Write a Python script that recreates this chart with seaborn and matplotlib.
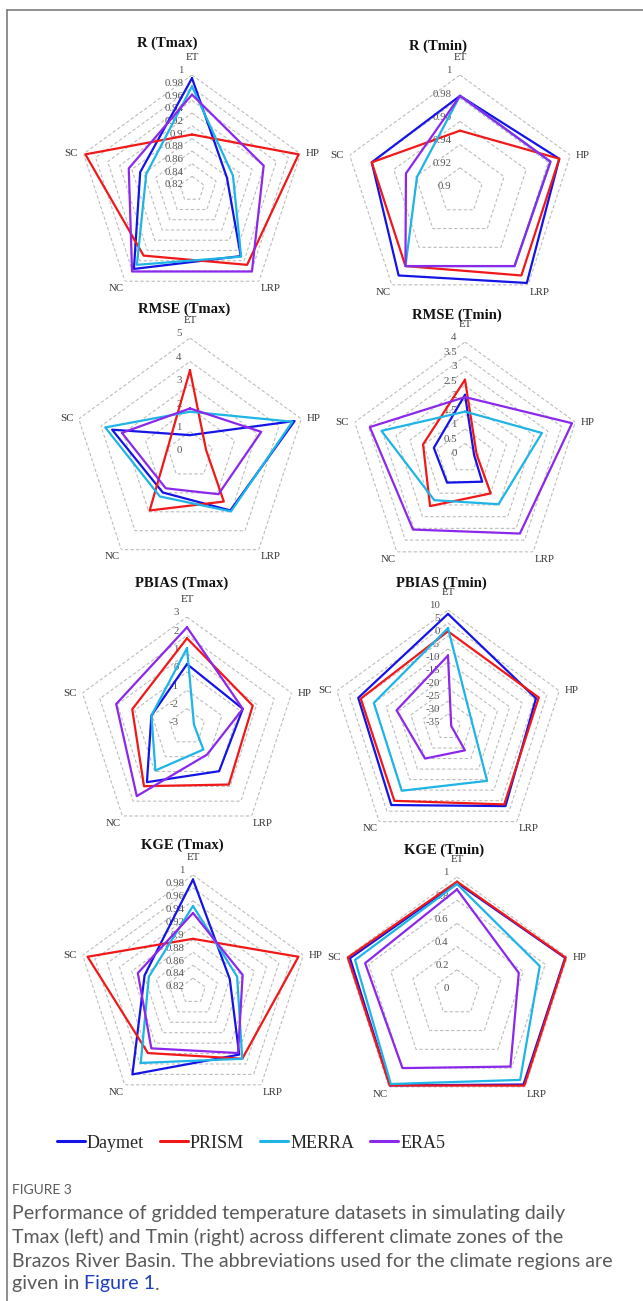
import numpy as np
import pandas as pd
import seaborn as sns
import matplotlib.pyplot as plt
from matplotlib.lines import Line2D

# === 1. Data (regions clockwise from the top; one list per dataset) ===
regions = ["ET", "HP", "LRP", "NC", "SC"]
datasets = ["Daymet", "PRISM", "MERRA", "ERA5"]
colors = ["#1414e6", "#f01818", "#1eb4e6", "#8c28eb"]

#            ET     HP     LRP    NC     SC
r_tmax = [[0.995, 0.878, 0.951, 0.976, 0.906],
          [0.906, 0.997, 0.968, 0.950, 0.997],
          [0.982, 0.888, 0.952, 0.968, 0.896],
          [0.969, 0.939, 0.981, 0.981, 0.925]]
r_tmin = [[0.982, 0.990, 0.998, 0.990, 0.980],
          [0.952, 0.990, 0.990, 0.980, 0.980],
          [0.982, 0.982, 0.980, 0.980, 0.939],
          [0.982, 0.982, 0.980, 0.980, 0.949]]
rmse_tmax = [[0.85, 4.70, 2.93, 1.98, 3.50],
             [3.62, 0.72, 2.46, 2.93, 1.00],
             [1.85, 4.60, 2.98, 2.19, 3.81],
             [1.99, 3.20, 2.07, 1.76, 3.06]]
rmse_tmin = [[2.18, 0.33, 1.01, 1.05, 1.13],
             [2.70, 0.42, 1.51, 2.05, 1.52],
             [1.60, 2.79, 1.97, 1.80, 3.03],
             [2.10, 3.88, 3.22, 3.05, 3.45]]
pbias_tmax = [[0.43, 0.20, -0.02, 0.72, -0.96],
              [1.84, 0.77, 0.88, 0.99, 0.14],
              [1.30, -2.60, -1.48, -0.07, -0.96],
              [2.44, 0.20, -1.14, 1.66, 1.06]]
pbias_tmin = [[8.5, 0.6, 2.6, 2.1, 1.3],
              [1.8, 1.7, 1.8, 0.1, 0.3],
              [3.0, -25.6, -9.4, -4.7, -5.0],
              [-7.5, -33.7, -23.9, -20.0, -14.2]]
kge_tmax = [[0.993, 0.880, 0.942, 0.980, 0.899],
            [0.901, 0.992, 0.950, 0.939, 0.992],
            [0.952, 0.892, 0.950, 0.958, 0.892],
            [0.941, 0.901, 0.939, 0.930, 0.910]]
kge_tmin = [[0.950, 0.980, 0.975, 0.985, 0.970],
            [0.960, 0.985, 0.987, 0.985, 0.990],
            [0.940, 0.750, 0.926, 0.970, 0.924],
            [0.893, 0.560, 0.784, 0.800, 0.833]]

# radial ticks (first = centre of the chart)
ticks_r_tmax = [0.82, 0.84, 0.86, 0.88, 0.90, 0.92, 0.94, 0.96, 0.98, 1.0]
ticks_r_tmin = [0.90, 0.92, 0.94, 0.96, 0.98, 1.0]
ticks_rmse_tmax = [0, 1, 2, 3, 4, 5]
ticks_rmse_tmin = [0, 0.5, 1, 1.5, 2, 2.5, 3, 3.5, 4]
ticks_pbias_tmax = [-3, -2, -1, 0, 1, 2, 3]
ticks_pbias_tmin = [-35, -30, -25, -20, -15, -10, -5, 0, 5, 10]
ticks_kge_tmax = ticks_r_tmax
ticks_kge_tmin = [0, 0.2, 0.4, 0.6, 0.8, 1.0]

# === 2. Panel layout (pixels: chart centre, radius, title centre) ===
W, H = 643, 1301
panels = [
    ("R (Tmax)", r_tmax, ticks_r_tmax, (192, 189), 114, (167, 43)),
    ("R (Tmin)", r_tmin, ticks_r_tmin, (460, 191), 116, (438, 46)),
    ("RMSE (Tmax)", rmse_tmax, ticks_rmse_tmax, (190, 455), 117, (184, 309)),
    ("RMSE (Tmin)", rmse_tmin, ticks_rmse_tmin, (465, 458), 116, (457, 315)),
    ("PBIAS (Tmax)", pbias_tmax, ticks_pbias_tmax, (187, 727), 110, (182, 583)),
    ("PBIAS (Tmin)", pbias_tmin, ticks_pbias_tmin, (448, 727), 117, (441, 583)),
    ("KGE (Tmax)", kge_tmax, ticks_kge_tmax, (193, 991), 116, (182, 845)),
    ("KGE (Tmin)", kge_tmin, ticks_kge_tmin, (457, 993), 116, (444, 850)),
]

# === 3. Style ===
sns.set_style("white")
plt.rcParams["font.family"] = ["Liberation Serif", "DejaVu Serif"]
serif = ["Liberation Serif", "DejaVu Serif"]

angles = np.linspace(0, 2 * np.pi, len(regions), endpoint=False)
closed = np.append(angles, 2 * np.pi)

label_pos = {  # offset (points), ha, va
    "ET": ((0, 9), "center", "bottom"),
    "HP": ((4, 0), "left", "center"),
    "LRP": ((1, -2), "left", "top"),
    "NC": ((-1, -2), "right", "top"),
    "SC": ((-4, 0), "right", "center"),
}

fig = plt.figure(figsize=(W / 100, H / 100), dpi=100)

for title, values, ticks, (cx, cy), R, (tx, ty) in panels:
    ax = fig.add_axes([(cx - R) / W, 1 - (cy + R) / H, 2 * R / W, 2 * R / H],
                      projection="polar")
    ax.set_theta_zero_location("N")
    ax.set_theta_direction(-1)

    # dashed pentagon grid
    for t in ticks[1:]:
        ax.plot(closed, [t] * len(closed), ls=(0, (3, 2)), color="#bdbdbd",
                lw=0.8, zorder=1)

    rows = []
    for name, vals in zip(datasets, values):
        for k in range(len(regions) + 1):
            rows.append({"theta": closed[k], "value": vals[k % len(regions)],
                         "dataset": name})
    df = pd.DataFrame(rows)
    sns.lineplot(data=df, x="theta", y="value", hue="dataset",
                 hue_order=datasets, palette=colors, sort=False,
                 estimator=None, lw=1.6, legend=False, ax=ax, zorder=3)

    ax.set_ylim(ticks[0], ticks[-1])
    ax.set_xticks([])
    ax.set_yticks([])
    ax.grid(False)
    ax.spines["polar"].set_visible(False)
    ax.set_xlabel("")
    ax.set_ylabel("")
    ax.set_facecolor("none")

    for t in ticks:
        ax.annotate(f"{t:g}", xy=(0, t), xytext=(-6, 3), textcoords="offset points",
                    ha="right", va="center", fontsize=7.8, color="#555555",
                    family=serif, annotation_clip=False, zorder=2)
    for ang, reg in zip(angles, regions):
        off, ha, va = label_pos[reg]
        ax.annotate(reg, xy=(ang, ticks[-1]), xytext=off, textcoords="offset points",
                    ha=ha, va=va, fontsize=7.8, color="#333333", family=serif,
                    annotation_clip=False)

    fig.text(tx / W, 1 - ty / H, title, ha="center", va="center",
             fontsize=10.5, fontweight="bold", family=serif, color="#111111")

# === 4. Legend ===
handles = [Line2D([], [], color=c, lw=2.2) for c in colors]
fig.legend(handles, datasets, loc="center", bbox_to_anchor=(251 / W, 1 - 1143 / H),
           ncol=4, frameon=False, handlelength=1.55, handletextpad=0.1,
           columnspacing=0.9, prop={"family": serif, "size": 13})

# === 5. Frame and caption ===
fig.add_artist(Line2D([6.5 / W, 1], [1 - 9.5 / H] * 2, transform=fig.transFigure,
                      color="#7d7d7d", lw=1.2))
fig.add_artist(Line2D([6.5 / W] * 2, [1 - 9.5 / H, 0], transform=fig.transFigure,
                      color="#7d7d7d", lw=1.2))

sans = ["Lato", "DejaVu Sans"]
cap_size = 14.1
cap_color = "#5a5a5a"
fig.text(12 / W, 1 - 1190 / H, "FIGURE 3", ha="left", va="center", fontsize=10,
         family=sans, color="#5a5a5a")
caption = [
    "Performance of gridded temperature datasets in simulating daily",
    "Tmax (left) and Tmin (right) across different climate zones of the",
    "Brazos River Basin. The abbreviations used for the climate regions are",
]
for i, line in enumerate(caption):
    fig.text(12 / W, 1 - (1213 + 24 * i) / H, line, ha="left", va="center",
             fontsize=cap_size, family=sans, color=cap_color)

y_last = 1 - 1284 / H
t1 = fig.text(12 / W, y_last, "given in ", ha="left", va="center", fontsize=cap_size,
              family=sans, color=cap_color)
fig.canvas.draw()
bb = t1.get_window_extent()
t2 = fig.text(bb.x1 / fig.bbox.width, y_last, "Figure 1", ha="left", va="center",
              fontsize=cap_size, family=sans, color="#1f3fbf")
fig.canvas.draw()
bb2 = t2.get_window_extent()
fig.text(bb2.x1 / fig.bbox.width, y_last, ".", ha="left", va="center",
         fontsize=cap_size, family=sans, color=cap_color)

fig.savefig("out.png", dpi=100)
